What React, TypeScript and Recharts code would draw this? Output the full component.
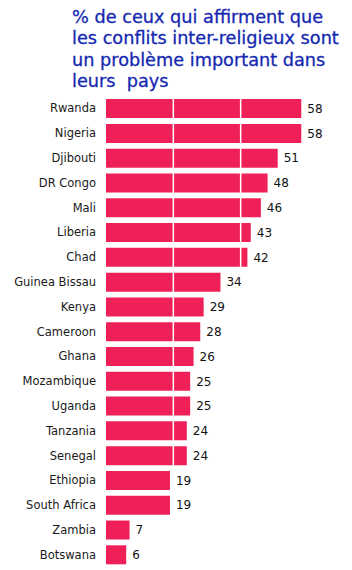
import React from "react";
import { BarChart, Bar, XAxis, YAxis, LabelList, ReferenceLine } from "recharts";

const countries = [
  "Rwanda", "Nigeria", "Djibouti", "DR Congo", "Mali", "Liberia", "Chad",
  "Guinea Bissau", "Kenya", "Cameroon", "Ghana", "Mozambique", "Uganda",
  "Tanzania", "Senegal", "Ethiopia", "South Africa", "Zambia", "Botswana",
];
const values = [58, 58, 51, 48, 46, 43, 42, 34, 29, 28, 26, 25, 25, 24, 24, 19, 19, 7, 6];
const gridValues = [20, 40];

const data = countries.map((name, i) => ({ name, value: values[i] }));

const title = "% de ceux qui affirment que\nles conflits inter-religieux sont\nun problème important dans\nleurs  pays";

const App: React.FC = () => {
  return (
    <div style={{ position: "relative", width: 344, height: 562 }}>
      <div
        style={{
          position: "absolute",
          left: 64,
          top: -1,
          whiteSpace: "pre",
          fontFamily: "'DejaVu Sans', sans-serif",
          fontSize: 17.7,
          lineHeight: "21.3px",
          color: "#1428b0",
          WebkitTextStroke: "0.3px #1428b0",
        }}
      >
        {title}
      </div>
      <BarChart
        width={344}
        height={562}
        data={data}
        layout="vertical"
        barCategoryGap="12.5%"
        margin={{ top: 88, right: 44, bottom: 3, left: 0 }}
      >
        <XAxis type="number" domain={[0, 60]} hide />
        <YAxis
          type="category"
          dataKey="name"
          width={98}
          axisLine={false}
          tickLine={false}
          tickMargin={4}
          tick={{ fill: "#1a1a1a", fontSize: 11.5, fontFamily: "'DejaVu Sans', sans-serif" }}
        />
        <Bar dataKey="value" fill="#ef2057" isAnimationActive={false}>
          <LabelList
            dataKey="value"
            position="right"
            offset={6}
            style={{ fill: "#111", fontSize: 12, fontFamily: "'DejaVu Sans', sans-serif" }}
          />
        </Bar>
        {gridValues.map((v) => (
          <ReferenceLine key={v} x={v} stroke="#fff" strokeWidth={1.5} />
        ))}
      </BarChart>
    </div>
  );
};

export default App;
